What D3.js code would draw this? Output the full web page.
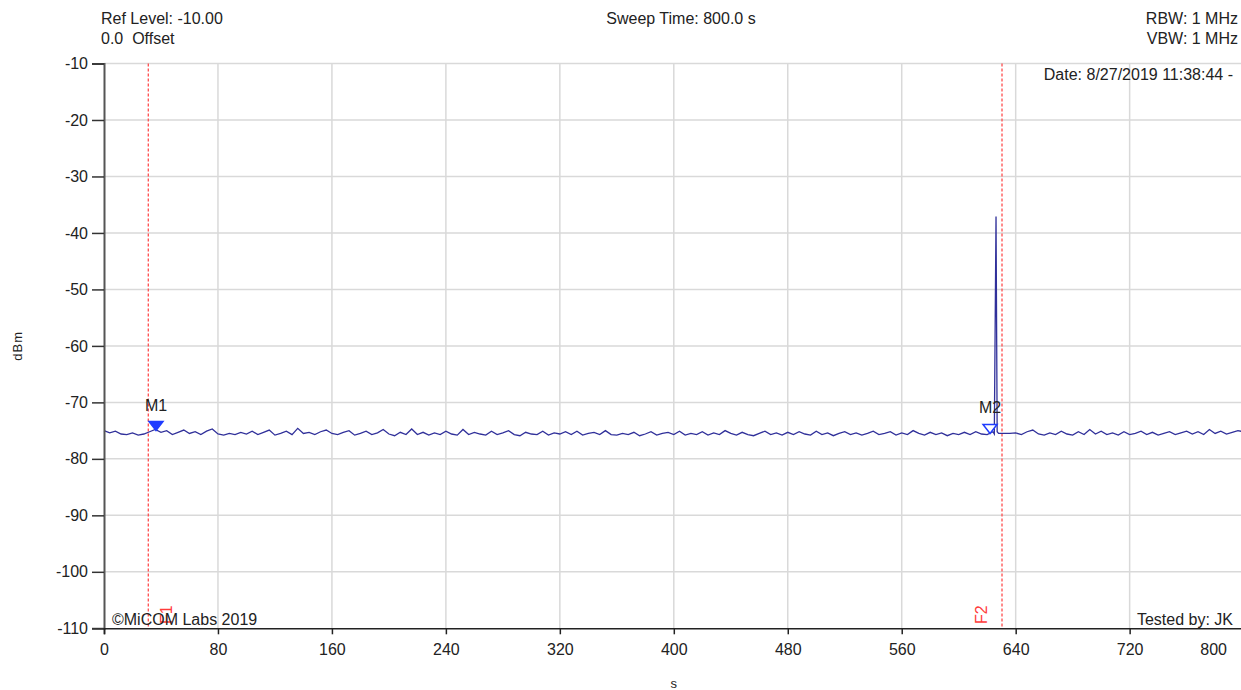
<!DOCTYPE html>
<html>
<head>
<meta charset="utf-8">
<script src="https://cdn.jsdelivr.net/npm/d3@7"></script>
<style>
  html, body { margin: 0; padding: 0; background: #fff; }
  svg { display: block; font-family: "Liberation Sans", Arial, sans-serif; }
  svg text { white-space: pre; }
</style>
</head>
<body>
<div id="chart"></div>
<script>
// sweep settings
const sweepStart = 0;
const sweepStep = 4;   // seconds between trace samples
const xTicks = [0, 80, 160, 240, 320, 400, 480, 560, 640, 720, 800];
const yTicks = [-10, -20, -30, -40, -50, -60, -70, -80, -90, -100, -110];

// trace samples (dBm), one every 4 s from 0 to 800 s
const traceValues = [
  -75.0,-75.4,-75.1,-75.6,-75.7,-75.4,-75.8,-75.6,-75.2,-74.8,
  -75.3,-75.0,-75.7,-75.3,-74.9,-75.5,-75.2,-75.7,-75.1,-74.7,
  -75.6,-75.8,-75.5,-75.7,-75.3,-75.6,-75.1,-75.7,-75.3,-74.9,
  -75.8,-75.5,-75.1,-75.7,-74.6,-75.5,-75.3,-75.7,-75.2,-74.9,
  -75.5,-75.7,-75.3,-75.0,-75.8,-75.5,-75.1,-75.7,-75.4,-74.8,
  -75.6,-75.9,-75.3,-75.7,-74.7,-75.7,-75.3,-75.8,-75.4,-75.7,
  -75.1,-75.6,-75.8,-74.8,-75.7,-75.3,-75.6,-75.8,-75.1,-75.7,
  -75.4,-75.0,-75.7,-75.9,-75.3,-75.6,-75.7,-75.1,-75.8,-75.4,
  -75.6,-75.2,-75.7,-75.1,-75.8,-75.5,-75.3,-75.7,-75.0,-75.7,
  -75.8,-75.5,-75.7,-75.3,-75.9,-75.6,-75.2,-75.8,-75.5,-75.3,
  -75.7,-75.1,-75.8,-75.5,-75.7,-75.2,-75.8,-75.4,-75.7,-75.0,
  -75.5,-75.8,-75.3,-75.7,-75.9,-75.5,-75.1,-75.7,-75.4,-75.8,
  -75.3,-75.7,-75.2,-75.6,-75.8,-75.1,-75.7,-75.4,-75.9,-75.5,
  -75.2,-75.7,-75.4,-75.8,-75.5,-75.1,-75.7,-75.5,-75.2,-75.8,
  -75.4,-75.7,-75.0,-75.5,-75.8,-75.3,-75.7,-75.4,-75.9,-75.5,
  -75.7,-75.3,-75.7,-75.2,-75.6,-75.7,-75.2,-75.5,-75.5,-75.5,
  -75.4,-75.7,-75.2,-74.9,-75.6,-75.8,-75.4,-75.7,-75.1,-75.6,
  -75.8,-75.2,-75.7,-74.8,-75.6,-75.1,-75.7,-75.4,-75.8,-75.2,
  -75.7,-75.5,-75.1,-75.7,-75.3,-75.8,-75.5,-75.2,-75.7,-75.4,
  -75.1,-75.6,-75.2,-75.7,-74.8,-75.5,-75.1,-75.6,-75.3,-75.0,-75.2
];

// the burst near 626 s
const spikeTimes = [625.0, 626.2, 627.0];
const spikeValues = [-75.6, -37.1, -75.2];

// markers and frequency lines
const markerNames = ["M1", "M2"];
const markerTimes = [36.5, 622.0];
const markerValues = [-75.0, -75.5];
const markerFilled = [true, false];
const lineNames = ["F1", "F2"];
const lineTimes = [31.1, 630.4];

// header / footer texts
const headerLeft = ["Ref Level: -10.00", "0.0  Offset"];
const headerCenter = "Sweep Time: 800.0 s";
const headerRight = ["RBW: 1 MHz", "VBW: 1 MHz"];
const dateText = "Date: 8/27/2019 11:38:44 -";
const copyText = "©MiCOM Labs 2019";
const testedText = "Tested by: JK";

const W = 1241, H = 690;
const plot = { left: 104, top: 63.5, bottom: 628.3 };

const svg = d3.select("#chart").append("svg")
  .attr("width", W).attr("height", H);
svg.append("rect").attr("width", W).attr("height", H).attr("fill", "#fff");

const x = d3.scaleLinear().domain([0, 800]).range([plot.left, plot.left + 800 * 1.4245]);
const y = d3.scaleLinear().domain([-110, -10]).range([plot.bottom, plot.top]);

// 网格
const grid = svg.append("g");
grid.selectAll(".gx").data(xTicks.filter(d => d > 0)).enter().append("line")
  .attr("x1", d => x(d)).attr("x2", d => x(d))
  .attr("y1", plot.top).attr("y2", plot.bottom)
  .attr("stroke", "#d9d9d9").attr("stroke-width", 1.5);
grid.selectAll(".gy").data(yTicks.filter(d => d > -110)).enter().append("line")
  .attr("x1", plot.left).attr("x2", W)
  .attr("y1", d => y(d)).attr("y2", d => y(d))
  .attr("stroke", "#d9d9d9").attr("stroke-width", 1.5);

// frequency lines
lineTimes.forEach((t, i) => {
  svg.append("line")
    .attr("x1", x(t)).attr("x2", x(t))
    .attr("y1", plot.top).attr("y2", plot.bottom)
    .attr("stroke", "#ff4d4d").attr("stroke-width", 1.3)
    .attr("stroke-dasharray", "3,2");
});
// F labels (rotated)
const fOffsets = [24, -15];
lineTimes.forEach((t, i) => {
  const lx = x(t) + fOffsets[i], ly = 624;
  svg.append("text")
    .attr("transform", `translate(${lx},${ly}) rotate(-90)`)
    .attr("fill", "#ff3b3b")
    .style("font-size", "16px")
    .text(lineNames[i]);
});

// trace
const trace = traceValues.map((v, i) => ({ t: sweepStart + i * sweepStep, v }));
spikeTimes.forEach((t, i) => trace.push({ t, v: spikeValues[i] }));
trace.sort((a, b) => a.t - b.t);

svg.append("path")
  .datum(trace)
  .attr("fill", "none")
  .attr("stroke", "#30309a")
  .attr("stroke-width", 1.3)
  .attr("d", d3.line().x(d => x(d.t)).y(d => y(d.v)));

// markers
markerTimes.forEach((t, i) => {
  const mx = x(t), my = y(markerValues[i]);
  svg.append("path")
    .attr("d", `M${mx - 7},${my - 9} L${mx + 7},${my - 9} L${mx},${my} Z`)
    .attr("fill", markerFilled[i] ? "#1f3cff" : "#fff")
    .attr("stroke", "#1f3cff")
    .attr("stroke-width", 1.5);
  svg.append("text")
    .attr("x", mx).attr("y", my - 20)
    .attr("text-anchor", "middle")
    .attr("fill", "#222")
    .style("font-size", "16px")
    .text(markerNames[i]);
});

// Y axis
const yAxis = svg.append("g")
  .attr("transform", `translate(${plot.left},0)`)
  .call(d3.axisLeft(y).tickValues(yTicks).tickSize(12).tickPadding(4).tickFormat(d => String(d)));
yAxis.select(".domain").attr("stroke", "#555").attr("stroke-width", 2);
yAxis.selectAll(".tick line").attr("stroke", "#333").attr("stroke-width", 1.5);
yAxis.selectAll(".tick text").attr("fill", "#222").style("font-size", "16px")
  .style("font-family", "'Liberation Sans', Arial, sans-serif");

// X axis
const xAxis = svg.append("g")
  .attr("transform", `translate(0,${plot.bottom})`)
  .call(d3.axisBottom(x).tickValues(xTicks).tickSize(6).tickPadding(9).tickFormat(d => String(d)));
xAxis.select(".domain").attr("stroke", "#222").attr("stroke-width", 1.6);
xAxis.selectAll(".tick line").attr("stroke", "#222").attr("stroke-width", 1.5);
xAxis.selectAll(".tick text").attr("fill", "#222").style("font-size", "16px")
  .style("font-family", "'Liberation Sans', Arial, sans-serif");
// keep last label inside the window
xAxis.selectAll(".tick").filter(d => x(d) > W - 20)
  .each(function() {
    const tk = d3.select(this);
    tk.attr("transform", `translate(${W - 14},0)`);
    tk.select("text").attr("text-anchor", "end");
    tk.select("line").remove();
  });

// axis titles
svg.append("text")
  .attr("transform", `translate(22,${(plot.top + plot.bottom) / 2}) rotate(-90)`)
  .attr("text-anchor", "middle")
  .attr("fill", "#222")
  .style("font-size", "13px")
  .style("letter-spacing", "1px")
  .text("dBm");
svg.append("text")
  .attr("x", x(400)).attr("y", 688)
  .attr("text-anchor", "middle")
  .attr("fill", "#222")
  .style("font-size", "13px")
  .text("s");

// header
headerLeft.forEach((t, i) => {
  svg.append("text").attr("x", 101).attr("y", 24 + i * 20)
    .attr("fill", "#222").style("font-size", "16px").text(t);
});
svg.append("text").attr("x", 681).attr("y", 24)
  .attr("text-anchor", "middle")
  .attr("fill", "#222").style("font-size", "16px").text(headerCenter);
headerRight.forEach((t, i) => {
  svg.append("text").attr("x", 1238).attr("y", 24 + i * 20)
    .attr("text-anchor", "end")
    .attr("fill", "#222").style("font-size", "16px").text(t);
});
svg.append("text").attr("x", 1233).attr("y", 80)
  .attr("text-anchor", "end")
  .attr("fill", "#222").style("font-size", "16px").text(dateText);

// footer texts inside the plot
svg.append("text").attr("x", 112).attr("y", 625)
  .attr("fill", "#222").style("font-size", "16px").text(copyText);
svg.append("text").attr("x", 1233).attr("y", 625)
  .attr("text-anchor", "end")
  .attr("fill", "#222").style("font-size", "16px").text(testedText);
</script>
</body>
</html>
